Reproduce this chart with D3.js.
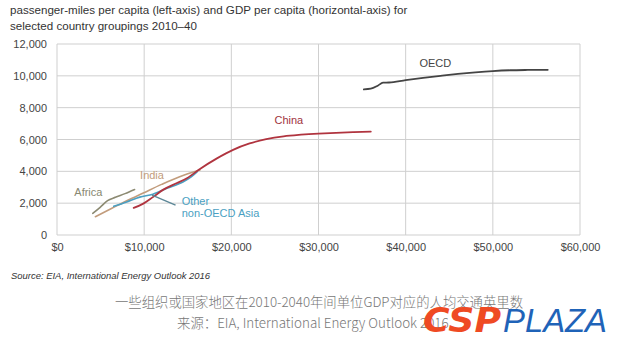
<!DOCTYPE html>
<html><head><meta charset="utf-8">
<script src="https://cdn.jsdelivr.net/npm/d3@7"></script>
<style>body{margin:0;background:#fff}svg{display:block}</style>
</head><body><svg id="c" width="620" height="347"></svg>
<script>
const titleLines = ["passenger-miles per capita (left-axis) and GDP per capita (horizontal-axis) for","selected country groupings 2010\u201340"];
const xTicks = [0,10000,20000,30000,40000,50000,60000];
const yTicks = [0,2000,4000,6000,8000,10000,12000];
const oecd = [[35200,9150],[36000,9190],[36800,9380],[37400,9570],[38100,9580],[40000,9730],[42000,9870],[44000,10000],[46000,10120],[48000,10220],[50000,10300],[52000,10350],[54000,10370],[56300,10380]];
const china = [[8800,1700],[9900,1970],[11000,2380],[12200,2850],[13700,3250],[14900,3560],[16400,4150],[18300,4800],[20200,5350],[22100,5750],[24000,6020],[26000,6200],[28000,6300],[30000,6370],[32000,6420],[34000,6460],[36000,6500]];
const india = [[4400,1150],[6300,1680],[8000,2150],[9900,2640],[12000,3180],[14000,3650],[16400,4080]];
const africa = [[4100,1360],[4950,1740],[5800,2160],[6700,2370],[7800,2600],[8900,2860]];
const otherAsia = [[6500,1800],[8000,2080],[9500,2380],[11000,2560],[12600,2930],[14500,3350],[15400,3650],[16100,3980]];
const seriesNames = ["OECD","China","India","Africa","Other","non-OECD Asia"];
const pointer = [[13600,1880],[10900,2500]];
const sourceText = "Source:  EIA, International Energy Outlook 2016";
const cnLines = ["一些组织或国家地区在2010-2040年间单位GDP对应的人均交通英里数","来源：EIA, International Energy Outlook 2016"];

const svg = d3.select("#c");
const L=57, R=580, T=44, B=235;
const x = d3.scaleLinear().domain([0,60000]).range([L,R]);
const y = d3.scaleLinear().domain([0,12000]).range([B,T]);
const font = "Liberation Sans, Arial, sans-serif";

svg.append("g").selectAll("text").data(titleLines).join("text")
  .attr("x",10).attr("y",(d,i)=>14+i*15.5).attr("font-family",font).attr("font-size",11.6).attr("fill","#333").text(d=>d);

// grid
const grid = svg.append("g").attr("stroke","#cfcfcf").attr("stroke-width",1);
grid.selectAll(".v").data(xTicks).join("line").attr("x1",d=>x(d)).attr("x2",d=>x(d)).attr("y1",T).attr("y2",B);
grid.selectAll(".h").data(yTicks).join("line").attr("y1",d=>y(d)).attr("y2",d=>y(d)).attr("x1",L).attr("x2",R);

const yAxis = d3.axisLeft(y).tickValues(yTicks).tickFormat(d3.format(",")).tickSize(0).tickPadding(10);
const gy = svg.append("g").attr("transform",`translate(${L},0)`).call(yAxis);
const xAxis = d3.axisBottom(x).tickValues(xTicks).tickFormat(d=>"$"+d3.format(",")(d)).tickSize(0).tickPadding(8);
const gx = svg.append("g").attr("transform",`translate(0,${B})`).call(xAxis);
[gx,gy].forEach(g=>{g.select(".domain").remove();g.selectAll("text").attr("font-family",font).attr("font-size",11).attr("fill","#444");});

const line = d3.line().x(d=>x(d[0])).y(d=>y(d[1])).curve(d3.curveMonotoneX);
const draw=(data,col,w)=>svg.append("path").datum(data).attr("d",line).attr("fill","none").attr("stroke",col).attr("stroke-width",w).attr("stroke-linejoin","round").attr("stroke-linecap","round");
draw(africa,"#8c8a72",1.6);
draw(india,"#c29c7c",1.6);
draw(otherAsia,"#4a9fc2",1.6);
draw(china,"#b0343f",1.8);
draw(oecd,"#444444",1.8);

// pointer
svg.append("line").attr("x1",x(pointer[0][0])).attr("y1",y(pointer[0][1])).attr("x2",x(pointer[1][0])).attr("y2",y(pointer[1][1])).attr("stroke","#5c8797").attr("stroke-width",1.4);

const lab=(t,px,py,col,anchor)=>svg.append("text").attr("x",px).attr("y",py).attr("font-family",font).attr("font-size",11).attr("fill",col).attr("text-anchor",anchor||"middle").attr("dominant-baseline","central").text(t);
lab(seriesNames[0],x(43400),y(10800),"#444");
lab(seriesNames[1],x(26600),y(7220),"#a0333d");
lab(seriesNames[2],x(10900),y(3740),"#c29c7c");
lab(seriesNames[3],x(3600),y(2680),"#888872");
lab(seriesNames[4],x(14300),y(2160),"#4a9fc2","start");
lab(seriesNames[5],x(14300),y(1380),"#4a9fc2","start");

svg.append("text").attr("x",11).attr("y",279).attr("font-family",font).attr("font-style","italic").attr("font-size",9).attr("fill","#333").attr("textLength",199).attr("lengthAdjust","spacingAndGlyphs").text(sourceText);

const cn = "Noto Sans CJK SC, sans-serif";
svg.append("text").attr("x",115).attr("y",307).attr("font-family",cn).attr("font-weight",300).attr("font-size",13.4).attr("fill","#777").attr("textLength",408).attr("lengthAdjust","spacingAndGlyphs").text(cnLines[0]);
svg.append("text").attr("x",177).attr("y",328).attr("font-family",cn).attr("font-weight",300).attr("font-size",13.4).attr("fill","#777").text(cnLines[1]);

// logo
svg.append("text").attr("x",423).attr("y",332).attr("font-family","DejaVu Sans, sans-serif").attr("font-weight","bold").attr("font-style","italic").attr("font-size",34).attr("fill","#ef4a23").attr("textLength",78).attr("lengthAdjust","spacingAndGlyphs").text("CSP");
svg.append("text").attr("x",503).attr("y",332).attr("font-family","Liberation Sans, sans-serif").attr("font-style","italic").attr("font-size",34).attr("fill","#1f63b8").attr("textLength",104).attr("lengthAdjust","spacingAndGlyphs").text("PLAZA");
</script></body></html>
